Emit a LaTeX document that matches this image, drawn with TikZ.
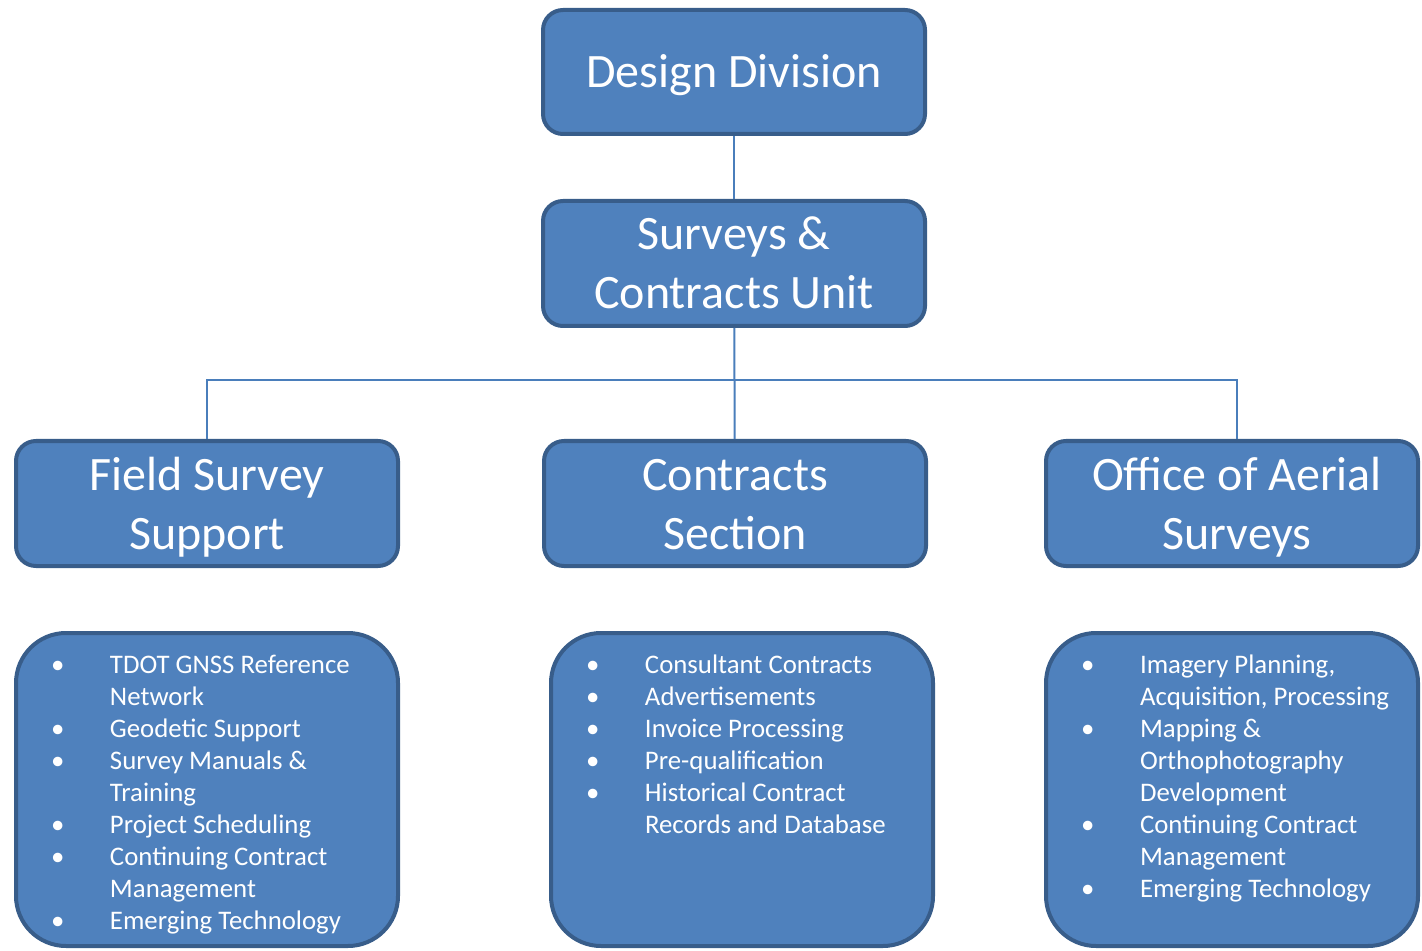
\documentclass[tikz,border=0pt]{standalone}
\usepackage{fontspec}
\setmainfont{Carlito}
\usepackage{tikz}

\definecolor{boxfill}{HTML}{4F81BD}
\definecolor{boxedge}{HTML}{385D8A}
\definecolor{linkcol}{HTML}{4A7EBB}

\newcommand{\bul}{\makebox[29.5pt][l]{\textbullet}}
\newcommand{\ind}{\hspace*{29.5pt}}
\newcommand{\listfont}{\fontsize{13.4}{16}\selectfont}
\newcommand{\fl}{\rule{0pt}{23pt}}
\newcommand{\ld}{\rule[-7pt]{0pt}{7pt}}

\begin{document}
\begin{tikzpicture}[x=0.5pt, y=-0.5pt,
    unitbox/.style={draw=boxedge, fill=boxfill, line width=2pt, rounded corners=10pt,
        text=white, minimum width=191pt, minimum height=62.5pt, inner sep=0pt,
        align=center, font=\fontsize{24}{29.5}\selectfont},
    listbox/.style={draw=boxedge, fill=boxfill, line width=2pt, rounded corners=25pt,
        text=white, inner sep=0pt, font=\listfont},
    link/.style={draw=linkcol, line width=1pt}]
    \useasboundingbox (0,0) rectangle (1422,951);

    % Top of the chart
    \node[unitbox, minimum height=62pt] (design) at (734,72) {\fl Design Division\ld};
    \node[unitbox] (unit) at (734,263.5) {\fl Surveys \&\\Contracts Unit\ld};

    % Sections
    \node[unitbox] (field) at (207,503.5) {\fl Field Survey\\Support\ld};
    \node[unitbox] (contracts) at (735,503.5) {\fl Contracts\\Section\ld};
    \node[unitbox, minimum width=186pt] (aerial) at (1232,503.5) {\fl\hspace*{5pt}Office of Aerial\\\hspace*{5pt}Surveys\ld};

    % Duties of each section
    \node[listbox] (fieldlist) at (207,789.5) {\parbox[c][156.5pt][t]{191pt}{\leftskip=17.5pt\relax
        \rule{0pt}{20pt}\bul TDOT GNSS Reference\\
        \ind Network\\
        \bul Geodetic Support\\
        \bul Survey Manuals \&\\
        \ind Training\\
        \bul Project Scheduling\\
        \bul Continuing Contract\\
        \ind Management\\
        \bul Emerging Technology}};
    \node[listbox] (contractslist) at (742,789.5) {\parbox[c][156.5pt][t]{191pt}{\leftskip=17.5pt\relax
        \rule{0pt}{20pt}\bul Consultant Contracts\\
        \bul Advertisements\\
        \bul Invoice Processing\\
        \bul Pre-qualification\\
        \bul Historical Contract\\
        \ind Records and Database}};
    \node[listbox] (aeriallist) at (1232,789.5) {\parbox[c][156.5pt][t]{186pt}{\leftskip=17.5pt\relax
        \rule{0pt}{20pt}\bul Imagery Planning,\\
        \ind Acquisition, Processing\\
        \bul Mapping \&\\
        \ind Orthophotography\\
        \ind Development\\
        \bul Continuing Contract\\
        \ind Management\\
        \bul Emerging Technology}};

    % Connectors
    \coordinate (bus) at (734,380);
    \coordinate (aerialtop) at ([xshift=2.5pt]aerial.north);
    \draw[link] (design) -- (unit);
    \draw[link] (unit) -- (contracts);
    \draw[link] (field.north) |- (bus) -| (aerialtop);
\end{tikzpicture}
\end{document}
